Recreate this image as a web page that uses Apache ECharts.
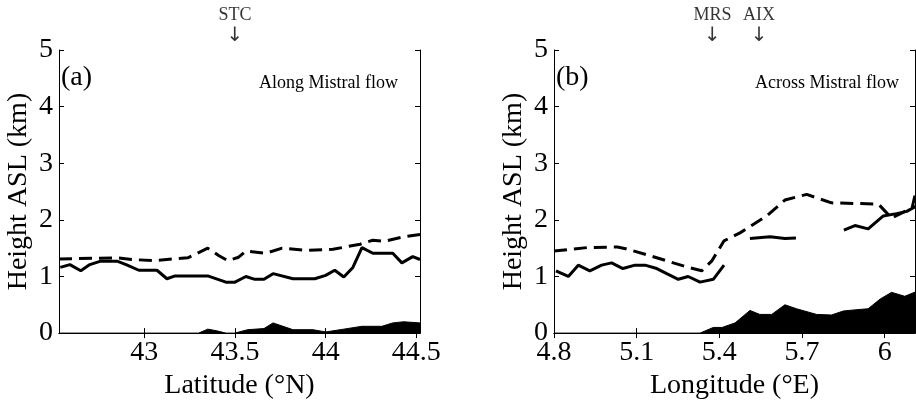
<!DOCTYPE html>
<html>
<head>
<meta charset="utf-8">
<script src="https://cdn.jsdelivr.net/npm/echarts@6/dist/echarts.min.js"></script>
<style>html,body{margin:0;padding:0;background:#fff}#c{width:916px;height:405px}</style>
</head>
<body>
<div id="c"></div>
<script>
// ---- Panel (a): along Mistral flow ----
var aSolidLat = [42.537,42.59,42.65,42.70,42.76,42.85,42.90,42.97,43.07,43.125,43.17,43.35,43.45,43.50,43.56,43.61,43.66,43.71,43.82,43.94,44.00,44.05,44.10,44.15,44.20,44.26,44.37,44.42,44.48,44.52];
var aSolidH   = [1.16,1.21,1.10,1.21,1.27,1.27,1.21,1.11,1.11,0.96,1.01,1.01,0.90,0.90,1.00,0.95,0.95,1.05,0.96,0.96,1.02,1.11,0.99,1.16,1.51,1.41,1.41,1.24,1.35,1.30];
var aDashLat  = [42.53,42.85,42.93,43.05,43.24,43.35,43.41,43.46,43.52,43.56,43.67,43.76,43.89,44.04,44.19,44.26,44.32,44.43,44.52];
var aDashH    = [1.31,1.33,1.30,1.28,1.33,1.50,1.37,1.28,1.34,1.45,1.41,1.50,1.46,1.48,1.57,1.64,1.62,1.70,1.74];
var aTerrLat  = [42.53,43.30,43.35,43.40,43.45,43.50,43.57,43.66,43.71,43.82,43.93,44.00,44.10,44.20,44.31,44.37,44.43,44.52];
var aTerrH    = [0,0,0.07,0.04,0,0,0.06,0.08,0.18,0.06,0.06,0.02,0.07,0.12,0.12,0.18,0.20,0.18];
var aTicks    = [43,43.5,44,44.5];
var aSites    = ['STC'];
var aSiteLat  = [43.5];

// ---- Panel (b): across Mistral flow ----
var bSolidLon = [4.807,4.852,4.888,4.93,4.973,5.009,5.05,5.094,5.13,5.173,5.209,5.251,5.287,5.33,5.378,5.417,5.46,5.511,5.584,5.638,5.678,5.76,5.852,5.892,5.94,5.995,6.043,6.08,6.113];
var bSolidH   = [1.10,1.00,1.20,1.10,1.20,1.24,1.14,1.20,1.20,1.14,1.05,0.95,1.00,0.90,0.95,1.20,'-',1.67,1.70,1.67,1.68,'-',1.82,1.90,1.84,2.07,2.11,2.15,2.24];
var bDashLon  = [4.80,4.92,5.03,5.06,5.14,5.22,5.28,5.336,5.372,5.417,5.475,5.572,5.638,5.717,5.807,5.977,6.025,6.07,6.10,6.113];
var bDashH    = [1.45,1.51,1.52,1.49,1.38,1.26,1.17,1.10,1.27,1.63,1.77,2.07,2.35,2.45,2.30,2.28,2.03,2.14,2.22,2.50];
var bTerrLon  = [4.80,5.33,5.378,5.41,5.457,5.511,5.547,5.59,5.638,5.68,5.753,5.807,5.85,5.89,5.94,5.983,6.025,6.073,6.113];
var bTerrH    = [0,0,0.10,0.10,0.18,0.40,0.33,0.33,0.50,0.43,0.33,0.32,0.39,0.41,0.43,0.60,0.72,0.65,0.73];
var bTicks    = [4.8,5.1,5.4,5.7,6];
var bSites    = ['MRS','AIX'];
var bSiteLon  = [5.375,5.544];

function zip(xs, ys){ return xs.map(function(x,i){ return [x, ys[i]]; }); }

var FONT = '"Liberation Serif","Times New Roman",serif';
var black = '#000';

function xAxes(gi, min, max, ticks, name){
  return [
    {gridIndex: gi, type:'value', min:min, max:max, position:'bottom',
     name:name, nameLocation:'middle', nameGap:36,
     nameTextStyle:{fontFamily:FONT, fontSize:28, color:black},
     axisLine:{show:true, lineStyle:{color:black, width:1}},
     axisTick:{show:true, inside:true, length:5, customValues:ticks, lineStyle:{color:black}},
     axisLabel:{show:true, customValues:ticks, margin:6, fontFamily:FONT, fontSize:28, color:black},
     splitLine:{show:false}},
    {gridIndex: gi, type:'value', min:min, max:max, position:'top',
     axisLine:{show:true, lineStyle:{color:black, width:1}},
     axisTick:{show:true, inside:true, length:5, customValues:ticks, lineStyle:{color:black}},
     axisLabel:{show:false}, splitLine:{show:false}}
  ];
}
function yAxes(gi){
  return [
    {gridIndex: gi, type:'value', min:0, max:5, interval:1, position:'left',
     name:'Height ASL (km)', nameLocation:'middle', nameGap:26,
     nameTextStyle:{fontFamily:FONT, fontSize:28, color:black},
     axisLine:{show:true, lineStyle:{color:black, width:1}},
     axisTick:{show:true, inside:true, length:5, lineStyle:{color:black}},
     axisLabel:{show:true, margin:6, fontFamily:FONT, fontSize:28, color:black},
     splitLine:{show:false}},
    {gridIndex: gi, type:'value', min:0, max:5, interval:1, position:'right',
     axisLine:{show:true, lineStyle:{color:black, width:1}},
     axisTick:{show:true, inside:true, length:5, lineStyle:{color:black}},
     axisLabel:{show:false}, splitLine:{show:false}}
  ];
}

function panelSeries(xi, yi, solid, dash, terr, siteNames, siteX){
  return [
    {type:'line', xAxisIndex:xi, yAxisIndex:yi, data:terr, symbol:'none', silent:true,
     lineStyle:{width:1, color:black}, areaStyle:{color:black, opacity:1}, z:1},
    {type:'line', xAxisIndex:xi, yAxisIndex:yi, data:dash, symbol:'none', silent:true,
     lineStyle:{width:3, color:black, type:[13,7]}, z:3},
    {type:'line', xAxisIndex:xi, yAxisIndex:yi, data:solid, symbol:'none', silent:true, connectNulls:false,
     lineStyle:{width:3, color:black}, z:4},
    {type:'scatter', xAxisIndex:xi, yAxisIndex:yi, symbolSize:0, silent:true, clip:false,
     data: siteX.map(function(x,i){ return {value:[x,5], name:siteNames[i]}; }),
     label:{show:true, position:'top', distance:3, formatter:'{t|{b}}\n{a|↓}', color:black,
            rich:{t:{fontFamily:FONT, fontSize:18, lineHeight:20, color:black, align:'center'},
                  a:{fontFamily:'"DejaVu Sans",sans-serif', fontSize:20, lineHeight:22, color:black, align:'center'}}}}
  ];
}

var chart = echarts.init(document.getElementById('c'), null, {renderer:'canvas'});
chart.setOption({
  animation:false,
  backgroundColor:'#fff',
  grid:[
    {left:59, top:50, width:361, height:284},
    {left:554, top:50, width:361, height:284}
  ],
  xAxis: xAxes(0, 42.53, 44.52, aTicks, 'Latitude (°N)').concat(xAxes(1, 4.8, 6.11, bTicks, 'Longitude (°E)')),
  yAxis: yAxes(0).concat(yAxes(1)),
  series: panelSeries(0, 0, zip(aSolidLat,aSolidH), zip(aDashLat,aDashH), zip(aTerrLat,aTerrH), aSites, aSiteLat)
    .concat(panelSeries(2, 2, zip(bSolidLon,bSolidH), zip(bDashLon,bDashH), zip(bTerrLon,bTerrH), bSites, bSiteLon)),
  graphic:[
    {type:'text', left:61, top:64, style:{text:'(a)', font:'28px '+FONT, fill:black}},
    {type:'text', right:518, top:74, style:{text:'Along Mistral flow', font:'18px '+FONT, fill:black}},
    {type:'text', left:556, top:64, style:{text:'(b)', font:'28px '+FONT, fill:black}},
    {type:'text', right:17, top:74, style:{text:'Across Mistral flow', font:'18px '+FONT, fill:black}}
  ]
});
</script>
</body>
</html>
